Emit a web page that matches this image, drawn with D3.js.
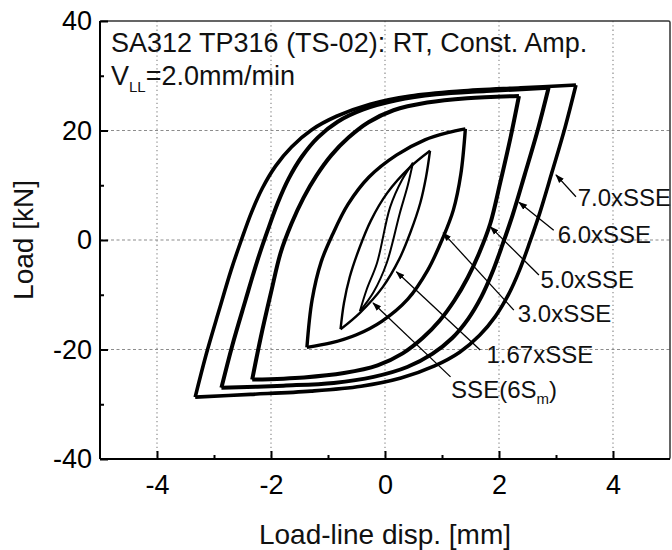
<!DOCTYPE html>
<html><head><meta charset="utf-8">
<script src="https://cdn.jsdelivr.net/npm/d3@7"></script>
<style>body{margin:0;background:#fff}svg{display:block}text{font-family:"Liberation Sans",Arial,sans-serif}</style>
</head><body><svg id="c" width="672" height="550"></svg>
<script>
// ---- data (load-line displacement [mm], load [kN]) ----
const xTicks = [-4, -2, 0, 2, 4];
const yTicks = [-40, -20, 0, 20, 40];
const xMinor = [-3, -1, 1, 3];
const yMinor = [-30, -10, 10, 30];

// 7.0 x SSE
const loop70Up = [[-3.33,-28.7],[-3.14,-21.0],[-2.91,-12.8],[-2.70,-5.5],[-2.52,0],[-2.34,5.1],[-2.15,9.5],[-1.92,13.5],[-1.64,17.0],[-1.29,20.1],[-0.85,22.6],[-0.26,24.8],[0.44,26.3],[1.32,27.2],[2.38,27.8],[3.35,28.3]];
const loop70Dn = [[3.35,28.3],[3.16,20.6],[2.93,12.4],[2.72,5.1],[2.54,-0.4],[2.36,-5.5],[2.17,-9.9],[1.94,-13.9],[1.66,-17.4],[1.31,-20.5],[0.87,-23.0],[0.28,-25.2],[-0.42,-26.7],[-1.30,-27.6],[-2.36,-28.2],[-3.33,-28.7]];
// 6.0 x SSE
const loop60Up = [[-2.87,-27.0],[-2.68,-19.3],[-2.45,-11.1],[-2.24,-3.8],[-2.06,1.7],[-1.88,6.8],[-1.69,11.2],[-1.46,15.2],[-1.18,18.7],[-0.83,21.6],[-0.39,23.8],[0.2,25.5],[0.9,26.6],[1.78,27.2],[2.87,27.8]];
const loop60Dn = [[2.87,27.8],[2.68,20.1],[2.45,11.9],[2.24,4.6],[2.06,-0.9],[1.88,-6.0],[1.69,-10.4],[1.46,-14.4],[1.18,-17.9],[0.83,-20.8],[0.39,-23.2],[-0.2,-25.0],[-0.9,-26.1],[-1.78,-26.6],[-2.87,-27.0]];
// 5.0 x SSE
const loop50Up = [[-2.33,-25.5],[-2.18,-17.8],[-2.0,-9.6],[-1.83,-2.3],[-1.64,3.0],[-1.43,7.7],[-1.2,11.8],[-0.94,15.5],[-0.64,18.7],[-0.29,21.5],[0.15,23.7],[0.74,25.1],[1.44,25.9],[2.35,26.3]];
const loop50Dn = [[2.35,26.3],[2.2,18.6],[2.02,10.4],[1.85,3.1],[1.66,-2.2],[1.45,-6.9],[1.22,-11.0],[0.96,-14.7],[0.66,-17.9],[0.31,-20.7],[-0.13,-22.9],[-0.72,-24.3],[-1.42,-25.1],[-2.33,-25.5]];
// 3.0 x SSE
const loop30Up = [[-1.37,-19.6],[-1.28,-11],[-1.12,-4],[-0.92,1],[-0.65,6.5],[-0.28,11.5],[0.2,15.5],[0.7,18.3],[1.1,19.6],[1.41,20.3]];
const loop30Dn = [[1.41,20.3],[1.33,12],[1.2,5.5],[1.02,0.5],[0.75,-5.5],[0.4,-10.8],[-0.05,-14.8],[-0.5,-17.3],[-0.95,-18.8],[-1.37,-19.6]];
// 1.67 x SSE
const loop167Up = [[-0.78,-16.3],[-0.72,-11.5],[-0.62,-6.8],[-0.45,-1.5],[-0.25,3.5],[0.04,8.6],[0.44,13.3],[0.79,16.3]];
const loop167Dn = [[0.79,16.3],[0.72,11.5],[0.62,6.8],[0.45,1.5],[0.25,-3.5],[-0.04,-8.6],[-0.44,-13.3],[-0.78,-16.3]];
// SSE (6Sm)
const loopSSEUp = [[-0.44,-13],[-0.32,-9],[-0.14,-4.2],[0.09,6],[0.3,11],[0.49,14.1]];
const loopSSEDn = [[0.49,14.1],[0.4,10],[0.26,4.9],[0.03,-4.2],[-0.2,-9.5],[-0.44,-13]];

const loops = [
  {up: loop70Up, dn: loop70Dn, w: 3.6},
  {up: loop60Up, dn: loop60Dn, w: 4},
  {up: loop50Up, dn: loop50Dn, w: 4},
  {up: loop30Up, dn: loop30Dn, w: 3.4},
  {up: loop167Up, dn: loop167Dn, w: 2.4},
  {up: loopSSEUp, dn: loopSSEDn, w: 2}
];

// annotation labels: text, arrow tip, arrow tail, text anchor (data units)
const labelText = ["7.0xSSE", "6.0xSSE", "5.0xSSE", "3.0xSSE", "1.67xSSE", "SSE(6S"];
const labelTip  = [[3.0,11.9],[2.35,6.9],[1.85,2.4],[1.02,1.3],[0.2,-5.8],[-0.21,-11.5]];
const labelTail = [[3.35,7.9],[2.96,1.8],[2.70,-6.4],[2.26,-12.8],[1.67,-20.1],[1.15,-25.0]];
const labelPos  = [[3.38,6.2],[3.03,-0.5],[2.73,-8.8],[2.33,-15.0],[1.78,-22.5],[1.16,-28.9]];

// ---- drawing ----
const L = 100, R = 670, T = 21, B = 459;
const svg = d3.select("#c");
const x = d3.scaleLinear().domain([-5, 5]).range([L, R]);
const y = d3.scaleLinear().domain([-40, 40]).range([B, T]);
const fmt = d => String(d);

// grid
const g = svg.append("g");
g.selectAll(".vg").data(xTicks).join("line")
  .attr("x1", d => x(d)).attr("x2", d => x(d)).attr("y1", T).attr("y2", B)
  .attr("stroke", "#8c8c8c").attr("stroke-width", 1.2).attr("stroke-dasharray", "1.3,3");
g.selectAll(".hg").data(yTicks.filter(d => d > -40 && d < 40)).join("line")
  .attr("y1", d => y(d)).attr("y2", d => y(d)).attr("x1", L).attr("x2", R)
  .attr("stroke", "#8c8c8c").attr("stroke-width", 1.2).attr("stroke-dasharray", "3,2.5");

// loops
const line = d3.line().x(d => x(d[0])).y(d => y(d[1])).curve(d3.curveCatmullRom.alpha(0.5));
svg.append("clipPath").attr("id", "pc").append("rect")
  .attr("x", L).attr("y", T).attr("width", R - L).attr("height", B - T);
const lg = svg.append("g").attr("clip-path", "url(#pc)");
loops.forEach(lp => {
  [lp.up, lp.dn].forEach(br => {
    lg.append("path").attr("d", line(br)).attr("fill", "none")
      .attr("stroke", "#000").attr("stroke-width", lp.w).attr("stroke-linejoin", "miter");
  });
});

// annotations
svg.append("defs").append("marker").attr("id", "ah").attr("viewBox", "0 0 10 10")
  .attr("refX", 9).attr("refY", 5).attr("markerWidth", 9).attr("markerHeight", 9)
  .attr("markerUnits", "userSpaceOnUse").attr("orient", "auto")
  .append("path").attr("d", "M0,1.5 L10,5 L0,8.5 Z").attr("fill", "#000");
labelText.forEach((t, i) => {
  svg.append("line").attr("x1", x(labelTail[i][0])).attr("y1", y(labelTail[i][1]))
    .attr("x2", x(labelTip[i][0])).attr("y2", y(labelTip[i][1]))
    .attr("stroke", "#000").attr("stroke-width", 1.3).attr("marker-end", "url(#ah)");
  const tx = svg.append("text").attr("x", x(labelPos[i][0])).attr("y", y(labelPos[i][1]))
    .attr("font-size", 24).attr("fill", "#111");
  tx.append("tspan").text(t);
  if (i === 5) {
    tx.append("tspan").attr("font-size", 15).attr("dy", 6).text("m");
    tx.append("tspan").attr("dy", -6).text(")");
  }
});

// frame
svg.append("rect").attr("x", L).attr("y", T).attr("width", R - L).attr("height", B - T)
  .attr("fill", "none").attr("stroke", "#333").attr("stroke-width", 1.5).attr("rx", 1.5);
svg.append("line").attr("x1", L).attr("x2", R).attr("y1", B).attr("y2", B).attr("stroke", "#000").attr("stroke-width", 2);
svg.append("line").attr("x1", L).attr("x2", L).attr("y1", T).attr("y2", B).attr("stroke", "#000").attr("stroke-width", 2);

// axes (ticks inward)
const xAx = svg.append("g").attr("transform", `translate(0,${B})`)
  .call(d3.axisBottom(x).tickValues(xTicks).tickSize(-8).tickFormat(fmt));
xAx.select(".domain").remove();
xAx.selectAll(".tick line").attr("stroke-width", 2);
xAx.selectAll("text").attr("font-size", 27).attr("fill", "#000").attr("font-family", "Liberation Sans, Arial, sans-serif").attr("dy", "0.71em").attr("y", 16);
const xMi = svg.append("g").attr("transform", `translate(0,${B})`)
  .call(d3.axisBottom(x).tickValues(xMinor).tickSize(-4).tickFormat(""));
xMi.select(".domain").remove();
xMi.selectAll(".tick line").attr("stroke-width", 2);

const yAx = svg.append("g").attr("transform", `translate(${L},0)`)
  .call(d3.axisLeft(y).tickValues(yTicks).tickSize(-8).tickFormat(fmt));
yAx.select(".domain").remove();
yAx.selectAll(".tick line").attr("stroke-width", 2);
yAx.selectAll("text").attr("font-size", 27).attr("fill", "#000").attr("font-family", "Liberation Sans, Arial, sans-serif").attr("x", -8);
const yMi = svg.append("g").attr("transform", `translate(${L},0)`)
  .call(d3.axisLeft(y).tickValues(yMinor).tickSize(-4).tickFormat(""));
yMi.select(".domain").remove();
yMi.selectAll(".tick line").attr("stroke-width", 2);

// axis titles
svg.append("text").attr("x", (L + R) / 2).attr("y", 544).attr("text-anchor", "middle")
  .attr("font-size", 28).attr("fill", "#111").text("Load-line disp. [mm]");
svg.append("text").attr("transform", `translate(33,${(T + B) / 2}) rotate(-90)`).attr("text-anchor", "middle")
  .attr("font-size", 28).attr("fill", "#111").text("Load [kN]");

// header text
svg.append("text").attr("x", 111).attr("y", 52).attr("font-size", 27).attr("fill", "#111")
  .text("SA312 TP316 (TS-02): RT, Const. Amp.");
const t2 = svg.append("text").attr("x", 111).attr("y", 85).attr("font-size", 27).attr("fill", "#111");
t2.append("tspan").text("V");
t2.append("tspan").attr("font-size", 15).attr("dy", 7).text("LL");
t2.append("tspan").attr("dy", -7).text("=2.0mm/min");
</script></body></html>
